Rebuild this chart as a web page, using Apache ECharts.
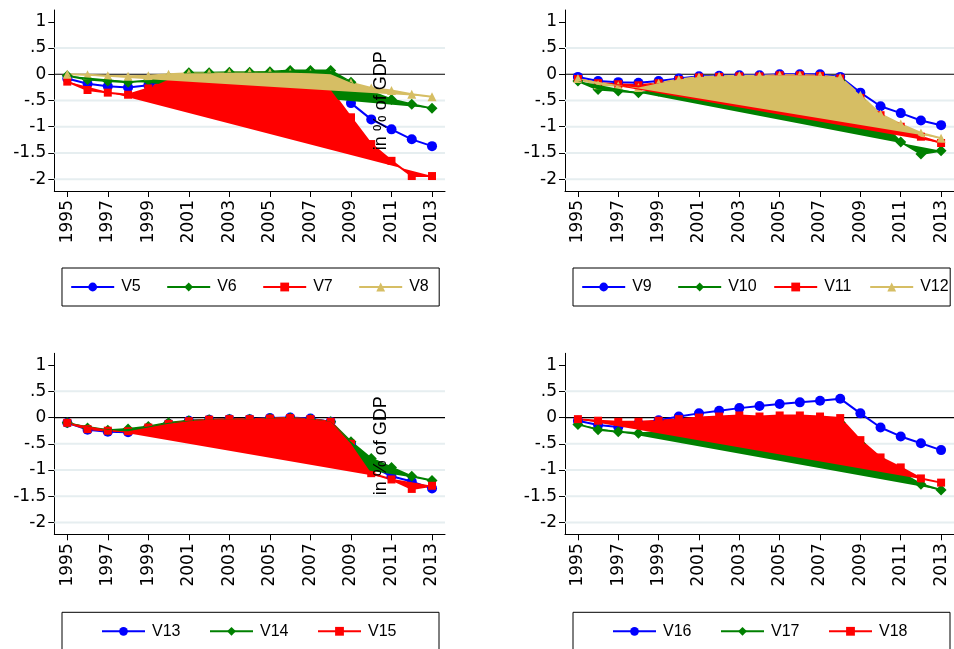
<!DOCTYPE html>
<html lang="en">
<head>
<meta charset="UTF-8">
<title>Panels V5-V18</title>
<script src="https://cdn.jsdelivr.net/npm/echarts@6/dist/echarts.min.js"></script>
<style>
    body { margin: 0; background: #fff; }
    #chart { width: 954px; height: 649px; }
</style>
</head>
<body>
<div id="chart"></div>
<script>
// data (share of GDP)
const years = [1995, 1996, 1997, 1998, 1999, 2000, 2001, 2002, 2003, 2004, 2005, 2006, 2007, 2008, 2009, 2010, 2011, 2012, 2013];
const xTicks = [1995, 1997, 1999, 2001, 2003, 2005, 2007, 2009, 2011, 2013];
const yTicks = [-2, -1.5, -1, -0.5, 0, 0.5, 1];
const gridVals = [0.5, -0.5, -1, -1.5, -2];

// panel 1
const v5 = [-0.08, -0.18, -0.23, -0.25, -0.21, -0.12, -0.10, -0.10, -0.08, -0.08, -0.07, -0.07, -0.08, -0.15, -0.55, -0.86, -1.05, -1.24, -1.37];
const v6 = [-0.03, -0.10, -0.13, -0.15, -0.12, -0.06, 0.03, 0.03, 0.04, 0.04, 0.05, 0.07, 0.07, 0.07, -0.15, -0.33, -0.48, -0.57, -0.65];
const v7 = [-0.14, -0.30, -0.35, -0.39, -0.27, -0.10, -0.10, -0.09, -0.09, -0.08, -0.08, -0.08, -0.10, -0.30, -0.82, -1.33, -1.65, -1.94, -1.94];
const v8 = [0.00, -0.01, -0.03, -0.04, -0.03, 0.00, 0.02, 0.02, 0.03, 0.03, 0.03, 0.03, 0.02, 0.00, -0.16, -0.26, -0.31, -0.38, -0.43];
// panel 2
const v9 = [-0.05, -0.13, -0.15, -0.16, -0.13, -0.08, -0.04, -0.03, -0.02, -0.02, 0.00, 0.00, 0.00, -0.05, -0.35, -0.61, -0.74, -0.88, -0.97];
const v10 = [-0.13, -0.29, -0.32, -0.35, -0.32, -0.22, -0.14, -0.12, -0.10, -0.10, -0.08, -0.07, -0.07, -0.12, -0.50, -0.90, -1.29, -1.52, -1.46];
const v11 = [-0.09, -0.17, -0.19, -0.21, -0.17, -0.11, -0.06, -0.05, -0.04, -0.04, -0.02, -0.02, -0.03, -0.08, -0.45, -0.78, -1.00, -1.19, -1.31];
const v12 = [-0.08, -0.20, -0.22, -0.25, -0.17, -0.10, -0.05, -0.04, -0.03, -0.03, -0.02, -0.02, -0.03, -0.06, -0.40, -0.76, -0.95, -1.12, -1.22];
// panel 3
const v13 = [-0.10, -0.23, -0.27, -0.28, -0.20, -0.12, -0.06, -0.04, -0.03, -0.03, -0.01, 0.00, -0.02, -0.08, -0.50, -0.92, -1.12, -1.22, -1.35];
const v14 = [-0.10, -0.20, -0.24, -0.22, -0.17, -0.10, -0.06, -0.04, -0.03, -0.03, -0.02, -0.01, -0.03, -0.08, -0.46, -0.78, -0.95, -1.12, -1.20];
const v15 = [-0.10, -0.22, -0.25, -0.26, -0.19, -0.12, -0.07, -0.04, -0.03, -0.03, -0.02, -0.01, -0.03, -0.08, -0.50, -1.06, -1.18, -1.36, -1.30];
// panel 4
const v16 = [-0.06, -0.14, -0.18, -0.12, -0.05, 0.02, 0.08, 0.13, 0.18, 0.22, 0.26, 0.29, 0.32, 0.36, 0.08, -0.19, -0.36, -0.49, -0.62];
const v17 = [-0.13, -0.23, -0.27, -0.30, -0.28, -0.22, -0.15, -0.10, -0.08, -0.06, -0.05, -0.05, -0.05, -0.10, -0.50, -0.82, -1.05, -1.27, -1.38];
const v18 = [-0.03, -0.06, -0.08, -0.08, -0.06, -0.03, 0.00, 0.02, 0.04, 0.02, 0.04, 0.04, 0.02, -0.01, -0.43, -0.76, -0.95, -1.16, -1.24];

const BLUE = '#0000ff', GREEN = '#008000', RED = '#ff0000', TAN = '#d6be64';
const styles = [
    { color: BLUE, symbol: 'circle', size: 10 },
    { color: GREEN, symbol: 'diamond', size: 11 },
    { color: RED, symbol: 'rect', size: 8 },
    { color: TAN, symbol: 'triangle', size: 9 }
];

const panels = [
    { names: ['V5', 'V6', 'V7', 'V8'], vals: [v5, v6, v7, v8], filled: [1, 2, 3] },
    { names: ['V9', 'V10', 'V11', 'V12'], vals: [v9, v10, v11, v12], filled: [1, 2, 3] },
    { names: ['V13', 'V14', 'V15'], vals: [v13, v14, v15], filled: [1, 2] },
    { names: ['V16', 'V17', 'V18'], vals: [v16, v17, v18], filled: [1, 2] }
];

const grids = [
    { left: 54.3, top: 10, width: 390.7, height: 181 },
    { left: 565, top: 10, width: 390.7, height: 181 },
    { left: 54.3, top: 353.3, width: 390.7, height: 181 },
    { left: 565, top: 353.3, width: 390.7, height: 181 }
];

const labelFont = 'DejaVu Sans';
const xAxes = [], yAxes = [], series = [], legends = [];

grids.forEach((g, gi) => {
    xAxes.push({
        gridIndex: gi, type: 'value', min: 1994.36, max: 2013.64,
        axisLine: { onZero: false, lineStyle: { color: '#000', width: 1 } },
        axisTick: { customValues: xTicks, length: 6, lineStyle: { color: '#000' } },
        axisLabel: {
            customValues: xTicks, rotate: 90, margin: 9, fontSize: 17, fontFamily: labelFont, color: '#000',
            formatter: v => String(v)
        },
        splitLine: { show: false }
    });
    yAxes.push({
        gridIndex: gi, type: 'value', min: -2.225, max: 1.225,
        axisLine: { show: true, onZero: false, lineStyle: { color: '#000', width: 1 } },
        axisTick: { show: true, customValues: yTicks, length: 6, lineStyle: { color: '#000' } },
        axisLabel: {
            customValues: yTicks, margin: 8, fontSize: 17, fontFamily: labelFont, color: '#000',
            formatter: v => String(v).replace('0.', '.')
        },
        splitLine: { show: false }
    });

    // grid lines and the zero line, under everything
    series.push({
        type: 'custom', xAxisIndex: gi, yAxisIndex: gi, z: 1, silent: true, data: [0],
        renderItem: (params, api) => {
            const cs = params.coordSys;
            const lines = gridVals.concat([0]).map(v => {
                const y = api.coord([1995, v])[1];
                return {
                    type: 'line',
                    shape: { x1: cs.x, y1: y, x2: cs.x + cs.width, y2: y },
                    style: { stroke: v === 0 ? '#000' : '#e6eef0', lineWidth: v === 0 ? 1.2 : 2 }
                };
            });
            return { type: 'group', children: lines };
        }
    });

    const p = panels[gi];
    p.names.forEach((name, k) => {
        const s = styles[k];
        series.push({
            name: name, type: 'line', xAxisIndex: gi, yAxisIndex: gi, z: 2,
            data: years.map((yr, i) => [yr, p.vals[k][i]]),
            symbol: s.symbol, symbolSize: s.size, showSymbol: true,
            lineStyle: { color: s.color, width: 2 },
            itemStyle: { color: s.color },
            emphasis: { disabled: true }
        });
    });

    // filled polygons, closed from the last point back to the first
    p.filled.forEach(k => {
        const vals = p.vals[k];
        series.push({
            type: 'custom', xAxisIndex: gi, yAxisIndex: gi, z: 3, silent: true, data: [0],
            renderItem: (params, api) => {
                const pts = years.map((yr, i) => api.coord([yr, vals[i]]));
                return { type: 'polygon', shape: { points: pts }, style: { fill: styles[k].color } };
            }
        });
    });

    const four = p.names.length === 4;
    legends.push({
        data: p.names,
        left: gi % 2 === 0 ? 62 : 573,
        top: gi < 2 ? 268 : 612.3,
        orient: 'horizontal',
        itemWidth: 43, itemHeight: 11,
        itemGap: four ? 15 : 17,
        padding: four ? [11, 0, 11, 8.2] : [11, 31, 11, 39],
        backgroundColor: '#fff', borderColor: '#000', borderWidth: 1, borderRadius: 0,
        selectedMode: false,
        textStyle: {
            fontFamily: 'Liberation Sans', fontSize: 16, color: '#000', lineHeight: 16,
            width: four ? 30 : 40, padding: [0, 0, 0, 2]
        }
    });
});

const chart = echarts.init(document.getElementById('chart'));
chart.setOption({
    animation: false,
    backgroundColor: '#fff',
    grid: grids,
    xAxis: xAxes,
    yAxis: yAxes,
    legend: legends,
    series: series,
    graphic: [
        { type: 'text', x: 381, y: 100.8, rotation: Math.PI / 2, z: 100,
          style: { text: 'in % of GDP', font: '18px "Liberation Sans"', fill: '#000', align: 'center', verticalAlign: 'middle' } },
        { type: 'text', x: 381, y: 445.8, rotation: Math.PI / 2, z: 100,
          style: { text: 'in % of GDP', font: '18px "Liberation Sans"', fill: '#000', align: 'center', verticalAlign: 'middle' } }
    ]
});
</script>
</body>
</html>
